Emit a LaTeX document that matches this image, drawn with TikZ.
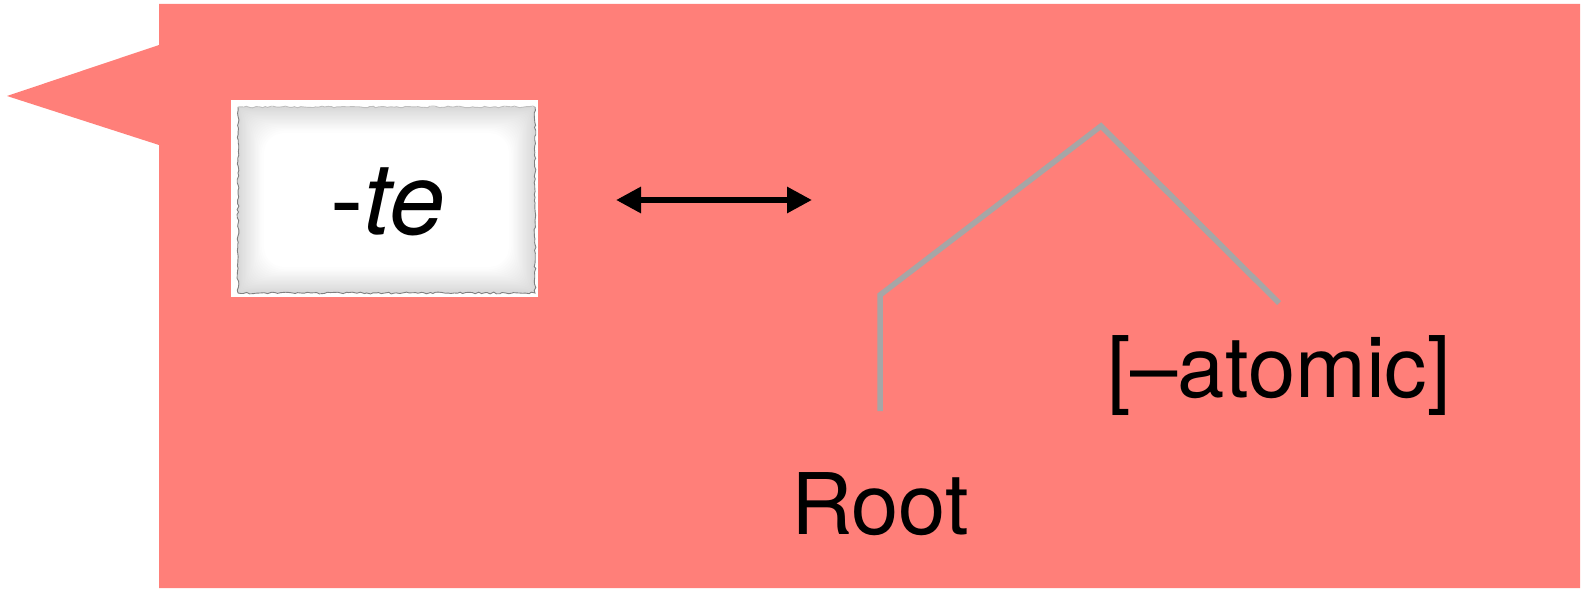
\documentclass[tikz,border=0pt]{standalone}
\usepackage{fontspec}
\setmainfont{TeX Gyre Heros}
\usetikzlibrary{arrows.meta,decorations.pathmorphing}
\definecolor{bubblered}{RGB}{255,127,121}
\definecolor{treegray}{RGB}{166,166,166}
\tikzset{
  bigtext/.style={font=\fontsize{85}{100}\selectfont, inner sep=0pt, anchor=base},
  branch/.style={draw=treegray, line width=5.5pt, line join=miter},
  twoway/.style={line width=6pt, {Triangle[length=25pt,width=25pt]}-{Triangle[length=25pt,width=25pt]}},
  tornedge/.style={line width=0.9pt, decorate, decoration={random steps, segment length=3pt, amplitude=0.9pt}},
}
\begin{document}
\begin{tikzpicture}[x=1pt,y=-1pt]
\useasboundingbox (0,0) rectangle (1585,596);
% speech bubble with its pointer on the left
\fill[bubblered] (159,4) -- (1580,4) -- (1580,588) -- (159,588) -- (159,145)
  -- (7,96) -- (159,45) -- cycle;

% paper card with a white frame, soft grey vignette and torn edge
\node[fill=white, minimum width=307pt, minimum height=197pt, inner sep=0pt] (paper) at (384.5,198.5) {};
\foreach \i in {0,...,18}{
  \pgfmathsetmacro\g{15-0.8*\i}
  \fill[black!\g, rounded corners=\i*1.3pt] (238+\i*1.3,107+\i*1.3) rectangle (535-\i*1.3,293-\i*1.3);
}
\fill[white, rounded corners=20pt] (264,133) rectangle (509,267);
\pgfmathsetseed{7}
\draw[black!50, tornedge] (238,107) -- (238,293) -- (535,293) -- (535,107);
\draw[black!25, tornedge] (238,107) -- (535,107);
\node[bigtext, font=\fontsize{100}{112}\selectfont] (te) at (388,235) {-\textit{te}};

% double-headed arrow
\coordinate (al) at (616,200);
\coordinate (ar) at (812,200);
\draw[twoway] (al) -- (ar);

% tree
\coordinate (top) at (1101,126);
\coordinate (joint) at (880,295);
\coordinate (leftend) at (880,411);
\coordinate (rightend) at (1279,303);
\draw[branch] (leftend) -- (joint) -- (top) -- (rightend);

\node[bigtext] (feat) at (1279,397) {[–atomic]};
\node[bigtext] (root) at (880,534) {Root};
\end{tikzpicture}
\end{document}
